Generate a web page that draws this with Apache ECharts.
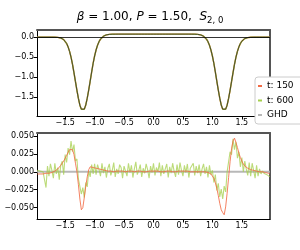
<!DOCTYPE html>
<html><head><meta charset="utf-8">
<script src="https://cdn.jsdelivr.net/npm/echarts@6/dist/echarts.min.js"></script>
<style>html,body{margin:0;padding:0;background:#fff}#c{width:300px;height:250px}</style>
</head><body><div id="c"></div>
<script>
// x grid (shared by all curves)
const xs = [-1.975,-1.95,-1.925,-1.9,-1.875,-1.85,-1.825,-1.8,-1.775,-1.75,
-1.725,-1.7,-1.675,-1.65,-1.625,-1.6,-1.575,-1.55,-1.525,-1.5,
-1.475,-1.45,-1.425,-1.4,-1.375,-1.35,-1.325,-1.3,-1.275,-1.25,
-1.225,-1.2,-1.175,-1.15,-1.125,-1.1,-1.075,-1.05,-1.025,-1,
-0.975,-0.95,-0.925,-0.9,-0.875,-0.85,-0.825,-0.8,-0.775,-0.75,
-0.725,-0.7,-0.675,-0.65,-0.625,-0.6,-0.575,-0.55,-0.525,-0.5,
-0.475,-0.45,-0.425,-0.4,-0.375,-0.35,-0.325,-0.3,-0.275,-0.25,
-0.225,-0.2,-0.175,-0.15,-0.125,-0.1,-0.075,-0.05,-0.025,0,
0.025,0.05,0.075,0.1,0.125,0.15,0.175,0.2,0.225,0.25,
0.275,0.3,0.325,0.35,0.375,0.4,0.425,0.45,0.475,0.5,
0.525,0.55,0.575,0.6,0.625,0.65,0.675,0.7,0.725,0.75,
0.775,0.8,0.825,0.85,0.875,0.9,0.925,0.95,0.975,1,
1.025,1.05,1.075,1.1,1.125,1.15,1.175,1.2,1.225,1.25,
1.275,1.3,1.325,1.35,1.375,1.4,1.425,1.45,1.475,1.5,
1.525,1.55,1.575,1.6,1.625,1.65,1.675,1.7,1.725,1.75,
1.775,1.8,1.825,1.85,1.875,1.9,1.925,1.95,1.975];

// Top panel: S_{2,0} profile (GHD; t:150 and t:600 overlap it)
const ghdTop = [0,0,0,0,0,0,0,0,0,0,
0,0,-0.001,-0.003,-0.005,-0.010,-0.019,-0.034,-0.060,-0.099,
-0.158,-0.242,-0.355,-0.50,-0.68,-0.89,-1.11,-1.33,-1.53,-1.70,
-1.80,-1.835,-1.80,-1.695,-1.525,-1.32,-1.10,-0.87,-0.655,-0.47,
-0.32,-0.20,-0.113,-0.05,-0.005,0.026,0.045,0.058,0.066,0.071,
0.074,0.075,0.076,0.076,0.077,0.077,0.077,0.077,0.077,0.077,
0.077,0.077,0.077,0.077,0.077,0.077,0.077,0.077,0.077,0.077,
0.077,0.077,0.077,0.077,0.077,0.077,0.077,0.077,0.077,0.077,
0.077,0.077,0.077,0.077,0.077,0.077,0.077,0.077,0.077,0.077,
0.077,0.077,0.077,0.077,0.077,0.077,0.077,0.077,0.077,0.077,
0.077,0.077,0.077,0.077,0.077,0.076,0.076,0.075,0.074,0.071,
0.066,0.058,0.045,0.026,-0.005,-0.05,-0.113,-0.20,-0.32,-0.47,
-0.655,-0.87,-1.10,-1.32,-1.525,-1.695,-1.80,-1.835,-1.80,-1.70,
-1.53,-1.33,-1.11,-0.89,-0.68,-0.50,-0.355,-0.242,-0.158,-0.099,
-0.060,-0.034,-0.019,-0.010,-0.005,-0.003,-0.001,0,0,0,
0,0,0,0,0,0,0,0,0];
const t150Top = ghdTop;
const t600Top = ghdTop;

// Bottom panel: differences from GHD
const t150Diff = [-0.003,-0.003,-0.003,-0.003,-0.003,-0.003,-0.002,-0.002,-0.002,-0.001,
-0.001,0.000,0.001,0.002,0.004,0.006,0.009,0.012,0.015,0.019,
0.023,0.027,0.031,0.033,0.031,0.024,0.012,0.000,-0.018,-0.038,
-0.053,-0.050,-0.036,-0.020,-0.007,0.003,0.007,0.008,0.006,0.006,
0.005,0.004,0.004,0.003,0.003,0.002,0.002,0.002,0.001,0.001,
0.001,0.001,0.000,0.001,0.001,0.000,0.001,0.000,0.001,0.001,
0.000,0.001,0.001,0.000,0.001,0.000,0.000,0.001,0.001,0.000,
0.001,0.001,0.000,0.001,0.000,0.001,0.001,0.000,0.001,0.000,
0.001,0.000,0.001,0.001,0.000,0.001,0.000,0.001,0.001,0.000,
0.001,0.001,0.000,0.001,0.000,0.001,0.001,0.000,0.001,0.000,
0.001,0.000,0.001,0.001,0.000,0.001,0.000,0.001,0.000,0.001,
0.000,0.001,0.000,0.000,0.000,0.000,-0.001,-0.002,-0.003,-0.005,
-0.009,-0.015,-0.023,-0.033,-0.044,-0.053,-0.057,-0.060,-0.049,-0.030,
-0.008,0.014,0.032,0.043,0.047,0.041,0.034,0.026,0.020,0.015,
0.011,0.008,0.006,0.005,0.004,0.003,0.003,0.002,0.002,0.001,
0.001,0.000,0.000,0.000,-0.001,-0.001,-0.002,-0.002,-0.003];

const t600Diff = [0.002,0.002,0.001,0.001,0.000,0.000,-0.022,0.008,-0.006,0.011,
0.002,-0.009,0.012,-0.003,0.006,-0.011,0.009,0.015,-0.004,0.024,
0.013,0.033,0.024,0.043,0.028,0.038,0.015,0.018,-0.010,-0.008,
-0.031,-0.022,-0.036,-0.015,-0.021,0.001,-0.007,0.010,-0.003,0.011,
-0.004,0.010,0.003,-0.006,0.012,-0.002,0.007,-0.008,0.005,0.011,
-0.005,0.002,0.013,-0.007,0.004,-0.003,0.010,0.006,-0.009,0.008,
0.001,-0.006,0.012,-0.001,0.009,-0.008,0.004,0.014,-0.004,0.002,
0.010,-0.007,0.005,-0.002,0.011,0.003,-0.009,0.008,-0.001,0.012,
-0.005,0.006,0.000,0.013,-0.006,0.009,-0.003,0.004,0.011,-0.008,
0.007,-0.002,0.012,0.001,-0.007,0.010,-0.004,0.013,0.002,-0.006,
0.009,-0.001,0.011,-0.008,0.005,0.003,0.012,-0.005,0.008,-0.002,
0.010,-0.006,0.004,0.011,-0.003,0.007,-0.008,0.009,-0.004,0.002,
-0.015,-0.004,-0.026,-0.016,-0.035,-0.024,-0.038,-0.020,-0.028,0.000,
-0.002,0.028,0.024,0.046,0.031,0.042,0.019,0.028,0.007,0.020,
0.000,0.015,0.004,-0.005,0.013,-0.006,0.012,0.002,-0.009,0.009,
-0.006,0.004,-0.003,0.001,-0.002,-0.003,-0.004,-0.005,-0.007];

const ghdDiffX = [-1.975, 1.975];
const ghdDiffY = [0, 0];

const xTicks = [-1.5,-1,-0.5,0,0.5,1,1.5];
const yTicksTop = [-1.5,-1,-0.5,0];
const yTicksBot = [-0.05,-0.025,0,0.025,0.05];

const C150 = '#f26b45', C600 = '#a5cf4c', CGHD = '#b8b8b8';
const FONT = 'DejaVu Sans';
const pairs = (x, y) => x.map((v, i) => [v, y[i]]);
const fmt = d => v => (v < 0 ? '\u2212' : '') + Math.abs(v).toFixed(d);

function mainX(g) {
  return { type:'value', gridIndex:g, min:-1.978, max:1.978, position:'bottom',
    axisLine:{show:true,onZero:false,lineStyle:{color:'#000',width:1}},
    axisTick:{show:true,length:3.5,customValues:xTicks,lineStyle:{color:'#000',width:1}},
    axisLabel:{customValues:xTicks,fontSize:8,color:'#000',margin:3,fontFamily:FONT,formatter:fmt(1)},
    splitLine:{show:false} };
}
function borderX(g) {
  return { type:'value', gridIndex:g, min:-1.978, max:1.978, position:'top',
    axisLine:{show:true,onZero:false,lineStyle:{color:'#555',width:2}},
    axisTick:{show:false}, axisLabel:{show:false}, splitLine:{show:false} };
}
function mainY(g, mn, mx, ticks, d) {
  return { type:'value', gridIndex:g, min:mn, max:mx, position:'left',
    axisLine:{show:true,onZero:false,lineStyle:{color:'#000',width:1}},
    axisTick:{show:true,length:3.5,customValues:ticks,lineStyle:{color:'#000',width:1}},
    axisLabel:{customValues:ticks,fontSize:8,color:'#000',margin:3,fontFamily:FONT,formatter:fmt(d)},
    splitLine:{show:false} };
}
function borderY(g, mn, mx) {
  return { type:'value', gridIndex:g, min:mn, max:mx, position:'right',
    axisLine:{show:true,onZero:false,lineStyle:{color:'#555',width:2}},
    axisTick:{show:false}, axisLabel:{show:false}, splitLine:{show:false} };
}
const line = (name, xi, yi, data, color, width, opacity, z) => ({
  name, type:'line', xAxisIndex:xi, yAxisIndex:yi, data, showSymbol:false, symbol:'none',
  silent:true, z, lineStyle:{color, width, opacity}, itemStyle:{color} });

const chart = echarts.init(document.getElementById('c'), null, {renderer:'canvas'});
const ghdTopSeries = line('GHD', 0, 0, pairs(xs, ghdTop), '#222', 1, 0.75, 4);
ghdTopSeries.markLine = { silent:true, symbol:['none','none'], label:{show:false},
  lineStyle:{color:'#000', width:0.8, type:'solid'}, data:[{yAxis:0}] };

chart.setOption({
  animation:false,
  backgroundColor:'#fff',
  title:{ left:'center', top:4,
    text:'{i|β} = 1.00, {i|P} = 1.50,  {i|S}{s|2, 0}',
    textStyle:{ fontSize:12, fontWeight:'normal', color:'#000', fontFamily:FONT,
      rich:{ i:{fontStyle:'italic',fontSize:12,fontFamily:FONT,color:'#000'},
             s:{fontSize:8.5,fontFamily:FONT,color:'#000',padding:[7,0,0,0]} } } },
  legend:{ left:255, top:77, orient:'vertical', icon:'rect', itemWidth:4, itemHeight:2,
    itemGap:2.5, padding:[3,40,3,3], backgroundColor:'#fff', borderColor:'#cccccc',
    borderWidth:1, borderRadius:3, selectedMode:false,
    textStyle:{fontSize:9,color:'#000',fontFamily:FONT,lineHeight:12},
    data:[{name:'t: 150',itemStyle:{color:C150}},{name:'t: 600',itemStyle:{color:C600}},
          {name:'GHD',itemStyle:{color:CGHD}}] },
  grid:[{left:37,top:30,width:233,height:86},{left:37,top:133,width:233,height:86}],
  xAxis:[mainX(0), borderX(0), mainX(1), borderX(1)],
  yAxis:[mainY(0,-1.97,0.18,yTicksTop,1), borderY(0,-1.97,0.18),
         mainY(1,-0.0659,0.0542,yTicksBot,3), borderY(1,-0.0659,0.0542)],
  series:[
    line('GHD', 2, 2, pairs(ghdDiffX, ghdDiffY), CGHD, 2, 1, 1),
    line('t: 600', 2, 2, pairs(xs, t600Diff), C600, 1.1, 0.75, 2),
    line('t: 150', 2, 2, pairs(xs, t150Diff), C150, 1, 0.85, 3),
    line('t: 150', 0, 0, pairs(xs, t150Top), C150, 1.4, 1, 2),
    line('t: 600', 0, 0, pairs(xs, t600Top), C600, 1.4, 0.9, 3),
    ghdTopSeries
  ]
});
</script></body></html>
